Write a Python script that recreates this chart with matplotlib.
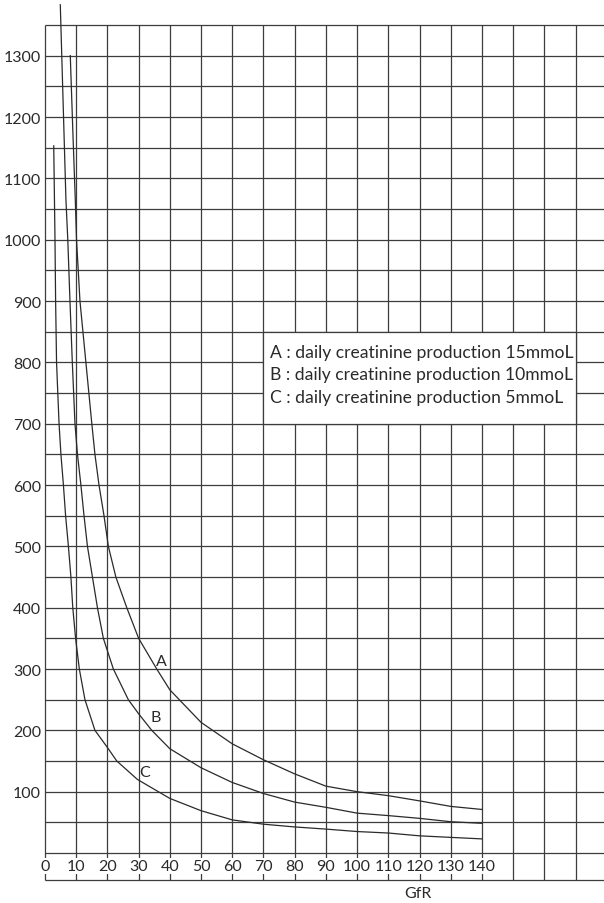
import matplotlib
matplotlib.use('Agg')
import matplotlib.pyplot as plt
from matplotlib.patches import Rectangle

plt.rcParams['font.family'] = ['Lato', 'DejaVu Sans']

# Curve data (GFR vs serum creatinine)
a_gfr = [8.1, 9.0, 9.7, 10.1, 11.2, 13.1, 15.0, 16.0, 17.3, 18.9, 20.3, 22.7, 26.2, 30, 35.8, 40,
         50, 60, 70, 80, 90, 100, 110, 120, 130, 140]
a_val = [1300, 1165, 1066, 1000, 900, 800, 700, 650, 600, 550, 500, 450, 400, 350, 300, 266,
         213, 178, 152, 129, 109, 100, 93.5, 85, 76, 71]

b_gfr = [4.9, 6.7, 7.3, 8.0, 8.75, 9.6, 10.4, 11.5, 12.5, 13.6, 15.2, 16.8, 18.7, 21.9, 26.7,
         30, 34.2, 40, 50, 60, 70, 80, 90, 100, 110, 120, 130, 140]
b_val = [1383, 1066, 1000, 900, 800, 700, 650, 600, 550, 500, 450, 400, 350, 300, 250,
         227, 200, 170, 139, 115, 97, 83, 74.5, 65, 61, 56.5, 51, 48.4]

c_gfr = [2.8, 3.2, 3.4, 3.7, 4.5, 5.1, 5.9, 6.6, 7.5, 8.3, 8.9, 9.8, 11.0, 12.8, 16.0, 20, 23,
         29.6, 40, 50, 60, 70, 80, 90, 100, 110, 120, 130, 140]
c_val = [1153, 1000, 900, 800, 700, 650, 600, 550, 500, 450, 400, 350, 300, 250, 200, 172, 150,
         120, 89, 69, 54, 47, 42.5, 39, 35, 32.6, 28, 25.5, 23]

x_ticks = list(range(0, 150, 10))
y_ticks = list(range(100, 1400, 100))
legend_lines = ['A : daily creatinine production 15mmoL',
                'B : daily creatinine production 10mmoL',
                'C : daily creatinine production 5mmoL']

ink = '#2a2a2a'
grid_col = '#3c3c3c'

fig = plt.figure(figsize=(6.04, 9.04), dpi=100)
ax = fig.add_axes([45 / 604, 23 / 904, 559 / 604, 855 / 904])
ax.set_xlim(0, 179.1)
ax.set_ylim(-44, 1350)
for s in ax.spines.values():
    s.set_visible(False)

# grid, drawn by hand so it runs past the tick labels like the printed chart
ax.hlines(list(range(0, 1400, 50)), 0, 179.1, color=grid_col, lw=0.9, zorder=1, clip_on=False)
ax.hlines([-44], 0, 179.1, color=grid_col, lw=0.9, zorder=1, clip_on=False)
ax.vlines(list(range(0, 180, 10)), -44, 1350, color=grid_col, lw=0.9, zorder=1, clip_on=False)

# curves
for gx, gy in [(a_gfr, a_val), (b_gfr, b_val), (c_gfr, c_val)]:
    ax.plot(gx, gy, color=ink, lw=0.9, zorder=3, clip_on=False)

# y tick labels
ax.set_yticks(y_ticks)
ax.set_yticklabels([str(v) for v in y_ticks], fontsize=11.5, color=ink)
ax.tick_params(axis='y', length=0, pad=3)
ax.set_xticks([])

# x tick labels sit inside the bottom band, masking the grid lines
for v in x_ticks:
    ax.text(v, -21, str(v), ha='center', va='center', fontsize=11.5, color=ink, zorder=4,
            bbox=dict(facecolor='white', edgecolor='none', pad=0.5))

ax.text(119.4, -65, 'GfR', ha='center', va='center', fontsize=11.5, color=ink, clip_on=False)

# legend box
ax.add_patch(Rectangle((70, 700), 100, 150, facecolor='white', edgecolor=grid_col, lw=0.9, zorder=5))
for i, line in enumerate(legend_lines):
    ax.text(72.1, [816.4, 781.1, 743.1][i], line, ha='left', va='center', fontsize=12.6,
            color=ink, zorder=6)

# curve labels
ax.text(37.4, 313.5, 'A', ha='center', va='center', fontsize=11.5, color=ink, zorder=4)
ax.text(35.6, 221.3, 'B', ha='center', va='center', fontsize=11.5, color=ink, zorder=4)
ax.text(32.0, 131.6, 'C', ha='center', va='center', fontsize=11.5, color=ink, zorder=4)

fig.savefig('out.png', dpi=100)
